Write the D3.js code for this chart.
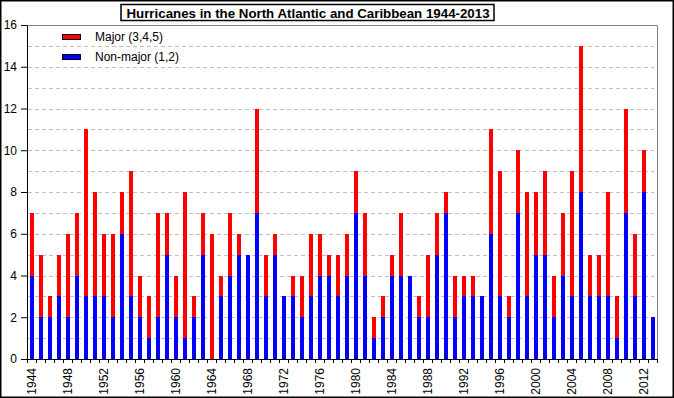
<!DOCTYPE html>
<html>
<head>
<meta charset="utf-8">
<script src="https://cdnjs.cloudflare.com/ajax/libs/d3/7.8.5/d3.min.js"></script>
<style>
    body { margin: 0; background: #fff; }
    svg { display: block; font-family: "Liberation Sans", Arial, sans-serif; }
</style>
</head>
<body>
<div class="viewport"></div>
<script>

var years = [
    1944, 1945, 1946, 1947, 1948, 1949, 1950, 1951, 1952, 1953,
    1954, 1955, 1956, 1957, 1958, 1959, 1960, 1961, 1962, 1963,
    1964, 1965, 1966, 1967, 1968, 1969, 1970, 1971, 1972, 1973,
    1974, 1975, 1976, 1977, 1978, 1979, 1980, 1981, 1982, 1983,
    1984, 1985, 1986, 1987, 1988, 1989, 1990, 1991, 1992, 1993,
    1994, 1995, 1996, 1997, 1998, 1999, 2000, 2001, 2002, 2003,
    2004, 2005, 2006, 2007, 2008, 2009, 2010, 2011, 2012, 2013
];

// category 1,2 storms per season
var nonMajor = [
    4, 2, 2, 3, 2, 4, 3, 3, 3, 2,
    6, 3, 2, 1, 2, 5, 2, 1, 2, 5,
    0, 3, 4, 5, 5, 7, 3, 5, 3, 3,
    2, 3, 4, 4, 3, 4, 7, 4, 1, 2,
    4, 4, 4, 2, 2, 5, 7, 2, 3, 3,
    3, 6, 3, 2, 7, 3, 5, 5, 2, 4,
    3, 8, 3, 3, 3, 1, 7, 3, 8, 2
];

// category 3,4,5 storms per season
var major = [
    3, 3, 1, 2, 4, 3, 8, 5, 3, 4,
    2, 6, 2, 2, 5, 2, 2, 7, 1, 2,
    6, 1, 3, 1, 0, 5, 2, 1, 0, 1,
    2, 3, 2, 1, 2, 2, 2, 3, 1, 1,
    1, 3, 0, 1, 3, 2, 1, 2, 1, 1,
    0, 5, 6, 1, 3, 5, 3, 4, 2, 3,
    6, 7, 2, 2, 5, 2, 5, 3, 2, 0
];

var yTicks = [0, 2, 4, 6, 8, 10, 12, 14, 16];
var xLabels = [1944, 1948, 1952, 1956, 1960, 1964, 1968, 1972, 1976, 1980,
    1984, 1988, 1992, 1996, 2000, 2004, 2008, 2012];

var seriesNames = ["Major (3,4,5)", "Non-major (1,2)"];
var seriesColors = ["#ff0000", "#0000ff"];

function letsGo() {

    var width = 674,
        height = 398,
        left = 27,
        right = 657,
        top = 25,
        bottom = 359;

    var svg = d3.select(".viewport").append("svg")
        .attr("width", width)
        .attr("height", height);

    var rows = years.map(function (yr, i) {
        return { year: yr, nonMajor: nonMajor[i], major: major[i] };
    });

    var stack = d3.stack().keys(["nonMajor", "major"])(rows);

    var x = d3.scaleBand()
        .domain(years)
        .range([left, right])
        .paddingInner(5 / 9)
        .paddingOuter(5 / 18);

    // year boundaries, for the little ticks between bars
    var xEdge = d3.scaleLinear()
        .domain([1944, 2014])
        .range([left, right]);

    var y = d3.scaleLinear()
        .domain([0, 16])
        .range([bottom, top]);

    // outer frame
    svg.append("rect")
        .attr("x", 0.75).attr("y", 0.75)
        .attr("width", width - 1.5).attr("height", height - 1.5)
        .attr("fill", "none")
        .attr("stroke", "#000")
        .attr("stroke-width", 1.5);

    // grid
    svg.append("g")
        .selectAll("line")
        .data(d3.range(1, 16))
        .enter().append("line")
        .attr("x1", left + 1)
        .attr("x2", right - 3)
        .attr("y1", function (d) { return Math.round(y(d)) + 0.5; })
        .attr("y2", function (d) { return Math.round(y(d)) + 0.5; })
        .attr("stroke", "#c0c0c0")
        .attr("stroke-dasharray", "4,3");

    // gray plot border top and right
    svg.append("path")
        .attr("d", "M" + left + "," + (top + 0.5) + "H" + (right + 0.5) + "V" + bottom)
        .attr("fill", "none")
        .attr("stroke", "#808080");

    // bars
    svg.append("g")
        .selectAll("g")
        .data(stack)
        .enter().append("g")
        .attr("fill", function (d) { return d.key === "major" ? seriesColors[0] : seriesColors[1]; })
        .selectAll("rect")
        .data(function (d) { return d; })
        .enter().append("rect")
        .attr("x", function (d) { return x(d.data.year); })
        .attr("width", x.bandwidth())
        .attr("y", function (d) { return y(d[1]); })
        .attr("height", function (d) { return y(d[0]) - y(d[1]); })
        .attr("shape-rendering", "crispEdges");

    // y axis
    var yAxis = svg.append("g")
        .attr("transform", "translate(" + left + ",0)")
        .call(d3.axisLeft(y).tickValues(yTicks).tickSize(6).tickPadding(4).tickSizeOuter(0));
    yAxis.selectAll("text").attr("font-size", 12).attr("font-family", null).attr("fill", "#000");
    yAxis.selectAll("line, path").attr("stroke", "#000");

    // x axis ticks
    var xTickAxis = svg.append("g")
        .attr("transform", "translate(0," + bottom + ")")
        .call(d3.axisBottom(xEdge).tickValues(d3.range(1944, 2015)).tickSize(4).tickFormat("").tickSizeOuter(0));
    xTickAxis.selectAll("line, path").attr("stroke", "#000");

    // x labels, rotated
    svg.append("g")
        .selectAll("text")
        .data(xLabels)
        .enter().append("text")
        .attr("transform", function (d) {
            return "translate(" + (x(d) + x.bandwidth() / 2 + 0.5) + "," + (bottom + 9) + ") rotate(-90)";
        })
        .attr("text-anchor", "end")
        .attr("dy", "0.35em")
        .attr("font-size", 12)
        .text(function (d) { return d; });

    // legend
    var legend = svg.append("g")
        .selectAll("g")
        .data(seriesNames)
        .enter().append("g")
        .attr("transform", function (d, i) { return "translate(62," + (34 + i * 20) + ")"; });

    legend.append("rect")
        .attr("x", 0.5).attr("y", 0.5)
        .attr("width", 18).attr("height", 5)
        .attr("fill", function (d, i) { return seriesColors[i]; })
        .attr("stroke", "#000");

    legend.append("text")
        .attr("x", 33)
        .attr("y", 3)
        .attr("dy", "0.35em")
        .attr("font-size", 12)
        .text(function (d) { return d; });

    // title box
    svg.append("rect")
        .attr("x", 121).attr("y", 4.5)
        .attr("width", 373).attr("height", 16)
        .attr("fill", "#fff")
        .attr("stroke", "#000")
        .attr("stroke-width", 1.5);

    svg.append("text")
        .attr("x", 308)
        .attr("y", 17.5)
        .attr("text-anchor", "middle")
        .attr("font-size", 13.3)
        .attr("font-weight", "bold")
        .text("Hurricanes in the North Atlantic and Caribbean 1944-2013");
}

letsGo();
</script>
</body>
</html>
